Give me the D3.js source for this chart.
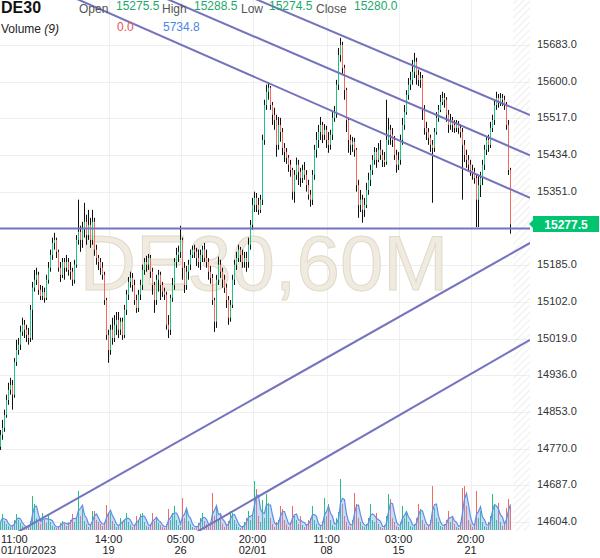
<!DOCTYPE html>
<html><head><meta charset="utf-8">
<script src="https://cdn.jsdelivr.net/npm/d3@7"></script>
<style>body{margin:0;background:#fff}svg{display:block;font-family:Arial,"Liberation Sans",sans-serif}</style>
</head><body><svg id="c" width="600" height="558"></svg>
<script>
// ---- DATA ----
const closeP = [
14801,14817,14846,14880,14903,14914,14892,14966,14993,15005,
15034,15050,15039,15027,15020,15084,15134,15152,15163,15129,
15115,15124,15111,15152,15179,15208,15235,15242,15215,15179,
15163,15192,15179,15192,15174,15170,15152,15186,15242,15260,
15242,15269,15283,15253,15276,15242,15283,15220,15201,15192,
15179,15163,15106,15027,14993,15039,15020,15050,15061,15039,
15057,15027,15084,15118,15147,
15156,15140,15106,15088,15118,15140,15174,15192,15186,15201,
15170,15140,15106,15152,15163,15140,15125,15118,15050,15039,
15111,15140,15192,15208,15215,15242,15179,15140,15170,15186,
15208,15220,15215,15201,15192,15208,15220,15201,15192,15170,
15156,15106,15057,15152,15186,15170,15152,15134,15106,15066,
15095,15152,15186,15201,15220,15208,15192,15201,15192,15231,
15276,15321,15337,15321,15310,
15333,15468,15547,15577,15586,15547,15525,15513,15457,15502,
15486,15450,15441,15428,15412,15400,15351,15389,15412,15396,
15382,15400,15389,15366,15344,15333,15389,15446,15468,15486,
15502,15480,15491,15468,15457,15480,15518,15531,15593,15660,
15683,15631,15581,15513,15468,15457,15464,15446,15366,15321,
15333,15310,15321,15355,15378,15400,15423,15441,15423,15446,
15434,15423,
15418,15468,15491,15480,15468,15434,15412,15423,15468,15502,
15531,15570,15593,15604,15622,15645,15615,15604,15608,15536,
15495,15486,15473,15457,15450,15486,15518,15536,15554,15563,
15559,15525,15502,15513,15502,15495,15504,15495,15486,15457,
15434,15423,15412,15400,15396,15382,15333,15366,15382,15412,
15446,15468,15457,15495,15513,15547,15563,15554,15563,15559,
15547,15502,15400,15277.5];

const openP = [14774,
14801,14817,14846,14880,14903,14914,14892,14966,14993,15005,
15034,15050,15039,15027,15020,15084,15134,15152,15163,15129,
15115,15124,15111,15152,15179,15208,15235,15242,15215,15179,
15163,15192,15179,15192,15174,15170,15152,15186,15242,15260,
15242,15269,15283,15253,15276,15242,15283,15220,15201,15192,
15179,15163,15106,15027,14993,15039,15020,15050,15061,15039,
15057,15027,15084,15118,15147,
15156,15140,15106,15088,15118,15140,15174,15192,15186,15201,
15170,15140,15106,15152,15163,15140,15125,15118,15050,15039,
15111,15140,15192,15208,15215,15242,15179,15140,15170,15186,
15208,15220,15215,15201,15192,15208,15220,15201,15192,15170,
15156,15106,15057,15152,15186,15170,15152,15134,15106,15066,
15095,15152,15186,15201,15220,15208,15192,15201,15192,15231,
15276,15321,15337,15321,15310,
15333,15468,15547,15577,15586,15547,15525,15513,15457,15502,
15486,15450,15441,15428,15412,15400,15351,15389,15412,15396,
15382,15400,15389,15366,15344,15333,15389,15446,15468,15486,
15502,15480,15491,15468,15457,15480,15518,15531,15593,15660,
15683,15631,15581,15513,15468,15457,15464,15446,15366,15321,
15333,15310,15321,15355,15378,15400,15423,15441,15423,15446,
15434,15423,
15418,15468,15491,15480,15468,15434,15412,15423,15468,15502,
15531,15570,15593,15604,15622,15645,15615,15604,15608,15536,
15495,15486,15473,15457,15450,15486,15518,15536,15554,15563,
15559,15525,15502,15513,15502,15495,15504,15495,15486,15457,
15434,15423,15412,15400,15396,15382,15333,15366,15382,15412,
15446,15468,15457,15495,15513,15547,15563,15554,15563,15559,
15547,15502,15400];

const highP = [
14812,14835,14858,14892,14919,14930,14925,14975,15016,15020,
15048,15066,15061,15050,15043,15095,15147,15174,15179,15170,
15140,15138,15134,15163,15192,15220,15247,15258,15247,15220,
15192,15201,15201,15208,15201,15192,15179,15197,15253,15333,
15274,15283,15326,15299,15310,15292,15310,15292,15231,15208,
15201,15192,15170,15111,15039,15050,15066,15072,15079,15079,
15066,15066,15095,15129,15158,
15170,15167,15152,15118,15129,15152,15186,15201,15206,15210,
15208,15179,15147,15163,15174,15170,15147,15134,15125,15072,
15118,15156,15201,15224,15229,15274,15247,15192,15183,15197,
15220,15229,15231,15224,15220,15220,15229,15235,15220,15201,
15183,15165,15111,15163,15204,15197,15179,15163,15143,15115,
15106,15163,15197,15215,15231,15226,15220,15215,15215,15247,
15287,15337,15351,15348,15337,
15344,15480,15559,15593,15599,15590,15554,15541,15525,15520,
15518,15495,15461,15450,15434,15423,15405,15400,15428,15423,
15405,15412,15418,15400,15378,15355,15400,15457,15486,15502,
15520,15509,15504,15500,15486,15491,15531,15545,15604,15676,
15699,15690,15638,15586,15518,15480,15475,15473,15450,15378,
15355,15344,15337,15371,15394,15412,15434,15452,15450,15461,
15468,15446,
15441,15559,15518,15502,15495,15477,15446,15441,15480,15518,
15547,15581,15608,15622,15649,15665,15654,15627,15622,15615,
15547,15509,15495,15480,15468,15495,15531,15547,15570,15577,
15574,15565,15536,15527,15520,15513,15513,15511,15504,15495,
15468,15446,15434,15423,15412,15405,15389,15389,15396,15423,
15457,15477,15480,15509,15525,15559,15577,15572,15574,15572,
15568,15554,15513,15405];

const lowP = [
14767,14790,14808,14840,14869,14892,14858,14885,14957,14982,
14993,15025,15020,15011,15005,15011,15016,15125,15140,15118,
15106,15106,15100,15106,15143,15170,15197,15220,15201,15170,
15147,15156,15152,15170,15161,15152,15138,15143,15179,15231,
15215,15224,15247,15231,15242,15224,15231,15206,15186,15174,
15163,15152,15095,15016,14964,14982,15005,15011,15027,15020,
15027,15016,15020,15072,15106,
15134,15125,15095,15077,15079,15106,15129,15163,15170,15174,
15156,15118,15077,15095,15125,15106,15113,15106,15039,15020,
15027,15102,15129,15179,15192,15201,15152,15122,15129,15152,
15174,15201,15201,15183,15179,15174,15192,15192,15179,15152,
15143,15095,15034,15043,15140,15156,15134,15122,15088,15050,
15057,15088,15140,15174,15192,15192,15179,15179,15170,15179,
15220,15265,15305,15305,15299,
15303,15321,15457,15536,15559,15536,15502,15491,15430,15446,
15464,15434,15418,15414,15396,15385,15333,15326,15378,15366,
15362,15371,15378,15351,15333,15317,15321,15378,15428,15450,
15468,15461,15468,15450,15439,15446,15468,15509,15518,15581,
15645,15615,15559,15486,15439,15434,15441,15430,15351,15292,
15305,15281,15294,15314,15344,15364,15389,15412,15405,15418,
15423,15407,
15407,15412,15457,15457,15452,15423,15394,15400,15412,15457,
15491,15525,15559,15581,15593,15608,15593,15590,15586,15513,
15480,15468,15457,15441,15326,15441,15480,15509,15531,15547,
15541,15509,15484,15491,15486,15484,15486,15482,15473,15333,
15418,15405,15396,15387,15378,15369,15271,15271,15339,15366,
15400,15434,15441,15450,15486,15502,15536,15541,15545,15545,
15536,15491,15389,15256];

const volume = [
5600,11200,6300,4200,2800,2100,3500,7000,11200,7000,
4900,2800,2100,1400,2800,6300,23800,18200,8400,5600,
4200,11900,7000,4900,11200,5600,2800,2100,1400,2800,
4900,6300,4200,2800,5600,7000,11200,5600,8400,27300,
9800,14700,6300,4200,2100,3500,13300,13300,7000,5600,
4200,2800,5600,17500,11900,11900,6300,4200,2100,2800,
8400,5600,7000,11900,5600,3500,2100,3500,9800,6300,
11200,11900,5600,2800,2100,4200,11900,6300,8400,4900,
3500,2100,1400,4200,14700,7000,11900,16800,7000,3500,
2100,22400,8400,14700,6300,4200,2100,1400,2800,4900,
8400,11900,6300,4200,2100,5600,25900,9800,15400,7000,
11900,4200,2100,3500,6300,13300,11900,7000,4200,2100,
1400,2800,5600,8400,13300,7000,11200,34300,28700,9800,
5600,21000,8400,25200,18900,8400,4200,2100,5600,7000,
16800,14700,7000,4200,2100,5600,16800,9800,7000,4200,
9800,3500,2100,4200,7000,8400,16800,7000,4200,2100,
2800,6300,22400,9800,18200,7000,3500,2100,8400,12600,
35700,18200,9800,5600,2800,2100,7000,25900,18200,8400,
5600,2800,2100,4200,8400,18200,7000,5600,11900,4200,
2100,1400,3500,9800,25200,21700,8400,5600,2800,2100,
5600,16800,8400,13300,5600,2800,2100,4200,8400,18200,
14700,7000,4200,2100,2800,7000,30800,15400,8400,5600,
2800,2100,4200,7000,13300,5600,9800,4200,2100,1400,
5600,29400,30800,16800,7000,4200,2100,3500,27300,8400,
13300,5600,2800,2100,5600,9800,25200,18200,7000,18900,
5600,2800,4200,15400,21700,16800];

const priceTicks = [15683,15600,15517,15434,15351,15268,15185,15102,15019,14936,14853,14770,14687,14604];
const timeTickIndex = [0,54,90,126,163,199,235];
const timeTickTime = ["11:00","14:00","05:00","20:00","11:00","03:00","20:00"];
const timeTickDate = ["01/10/2023","19","26","02/01","08","15","21"];

// trend lines: two anchor points each (candle index, price)
const trendIdxA = [169.75, 124.75, 124.75, 54.75, 143.25, 0];
const trendPriceA = [15706, 15706, 15615, 14699, 14699, 15268];
const trendIdxB = [259.75, 259.75, 259.75, 264.75, 264.75, 255];
const trendPriceB = [15534, 15443, 15347, 15235, 15016, 15268];

const lastPrice = 15277.5;
const header = {symbol:"DE30", open:"15275.5", high:"15288.5", low:"15274.5", close:"15280.0", volLast:"0.0", volMA:"5734.8"};
const maWindow = 3; // 9 hourly bars ≈ 3 of these aggregated bars

// ---- DRAW ----
const svg = d3.select("#c");
const plotR = 530, plotB = 531;
const n = closeP.length;
const x = d3.scaleLinear().domain([0, n - 1]).range([0.5, 2 * (n - 1) + 0.5]);
const y = d3.scaleLinear().domain([14604, 15683]).range([522, 44.9]);
const vy = d3.scaleLinear().domain([0, 36000]).range([530, 478.6]);

const GREEN = "#1fc47f", RED = "#f26b5e";

const defs = svg.append("defs");
defs.append("clipPath").attr("id", "plot").append("rect").attr("x", 0).attr("y", 0).attr("width", plotR).attr("height", plotB);
const pat = defs.append("pattern").attr("id", "hatch").attr("width", 5).attr("height", 5)
  .attr("patternUnits", "userSpaceOnUse").attr("patternTransform", "rotate(45)");
pat.append("line").attr("x1", 0).attr("y1", 0).attr("x2", 0).attr("y2", 5).attr("stroke", "#e3e3e3").attr("stroke-width", 1.2);

// grid
const grid = svg.append("g");
grid.selectAll("line.h").data(priceTicks).join("line")
  .attr("x1", 0).attr("x2", plotR)
  .attr("y1", d => Math.round(y(d)) + 0.5).attr("y2", d => Math.round(y(d)) + 0.5)
  .attr("stroke", "#efefef");
grid.selectAll("line.v").data(timeTickIndex.slice(1)).join("line")
  .attr("y1", 0).attr("y2", plotB)
  .attr("x1", d => Math.round(x(d)) + 0.5).attr("x2", d => Math.round(x(d)) + 0.5)
  .attr("stroke", "#efefef");

// future hatched area
svg.append("rect").attr("x", x(n - 1) + 2.5).attr("y", 0).attr("width", plotR - (x(n - 1) + 2.5)).attr("height", plotB)
  .attr("fill", "url(#hatch)");

// watermark
svg.append("text").attr("x", 264).attr("y", 290).attr("text-anchor", "middle")
  .attr("font-size", 78).attr("fill", "#efebe1").attr("stroke", "#e1dac9").attr("stroke-width", 1)
  .text("DE30,60M");

const plot = svg.append("g").attr("clip-path", "url(#plot)");
const idx = d3.range(n);
const up = i => closeP[i] >= openP[i];

// volume bars
plot.append("g").selectAll("rect").data(idx).join("rect")
  .attr("x", i => x(i) - 0.5).attr("width", 1)
  .attr("y", i => vy(volume[i])).attr("height", i => vy(0) - vy(volume[i]))
  .attr("fill", i => up(i) ? GREEN : RED);

// volume moving average
const ma = idx.map(i => d3.mean(volume.slice(Math.max(0, i - maWindow + 1), i + 1)));
plot.append("path").datum(idx)
  .attr("d", d3.area().x(i => x(i)).y0(vy(0)).y1(i => vy(ma[i])))
  .attr("fill", "#7aa6ee").attr("fill-opacity", 0.4);
plot.append("path").datum(idx)
  .attr("d", d3.line().x(i => x(i)).y(i => vy(ma[i])))
  .attr("fill", "none").attr("stroke", "#5d8fe6").attr("stroke-width", 1.2);

// candles
plot.append("g").selectAll("line").data(idx).join("line")
  .attr("x1", i => x(i)).attr("x2", i => x(i))
  .attr("y1", i => y(highP[i])).attr("y2", i => y(lowP[i]))
  .attr("stroke", "#111").attr("stroke-width", 1);
plot.append("g").selectAll("rect").data(idx).join("rect")
  .attr("x", i => x(i) - 0.5).attr("width", 1)
  .attr("y", i => y(Math.max(openP[i], closeP[i])))
  .attr("height", i => Math.max(1, Math.abs(y(openP[i]) - y(closeP[i]))))
  .attr("fill", i => up(i) ? GREEN : RED);

// trend lines
const i0 = x.invert(0), i1 = x.invert(plotR);
plot.append("g").selectAll("line").data(d3.range(trendIdxA.length)).join("line")
  .each(function (k) {
    const s = (trendPriceB[k] - trendPriceA[k]) / (trendIdxB[k] - trendIdxA[k]);
    d3.select(this)
      .attr("x1", x(i0)).attr("y1", y(trendPriceA[k] + s * (i0 - trendIdxA[k])))
      .attr("x2", x(i1)).attr("y2", y(trendPriceA[k] + s * (i1 - trendIdxA[k])));
  })
  .attr("stroke", "#7473bd").attr("stroke-width", 2);

// y axis labels
const yl = y(lastPrice);
svg.append("g").selectAll("text").data(priceTicks.filter(v => Math.abs(y(v) - yl) > 10)).join("text")
  .attr("x", 537).attr("y", d => Math.round(y(d)) + 3)
  .attr("font-size", 11).attr("fill", "#333").text(d => d3.format(".1f")(d));

// last price tag
const cy = Math.round(yl);
svg.append("path")
  .attr("d", `M529,${cy} L533,${cy - 4} L533,${cy - 8} L599,${cy - 8} L599,${cy + 8} L533,${cy + 8} L533,${cy + 4} Z`)
  .attr("fill", "#00c46f");
svg.append("text").attr("x", 566).attr("y", cy + 4.5).attr("text-anchor", "middle")
  .attr("font-size", 12).attr("font-weight", "bold").attr("fill", "#fff").text(d3.format(".1f")(lastPrice));

// x axis labels
const xa = svg.append("g").attr("font-size", 11).attr("fill", "#222");
timeTickIndex.forEach((ti, k) => {
  const px = k === 0 ? 1 : x(ti);
  const anchor = k === 0 ? "start" : "middle";
  xa.append("text").attr("x", px).attr("y", 543).attr("text-anchor", anchor).text(timeTickTime[k]);
  xa.append("text").attr("x", px).attr("y", 554).attr("text-anchor", anchor).text(timeTickDate[k]);
});

// header legend
const hd = svg.append("g");
hd.append("text").attr("x", 1).attr("y", 13).attr("font-size", 16).attr("font-weight", "bold").attr("fill", "#111").text(header.symbol);
const items = [["Open", header.open, 79, 116], ["High", header.high, 162, 194], ["Low", header.low, 241, 269], ["Close", header.close, 316, 354]];
items.forEach(([lab, val, lx, vx]) => {
  hd.append("text").attr("x", lx).attr("y", 13).attr("font-size", 12).attr("fill", "#555").text(lab);
  hd.append("text").attr("x", vx).attr("y", 10).attr("font-size", 12).attr("fill", "#1ba96a").text(val);
});
const vt = hd.append("text").attr("x", 1).attr("y", 33).attr("font-size", 12).attr("fill", "#222");
vt.append("tspan").text("Volume ");
vt.append("tspan").attr("font-style", "italic").text("(9)");
hd.append("text").attr("x", 117).attr("y", 31).attr("font-size", 12).attr("fill", "#e8534f").text(header.volLast);
hd.append("text").attr("x", 163).attr("y", 31).attr("font-size", 12).attr("fill", "#4a86e8").text(header.volMA);
</script></body></html>
